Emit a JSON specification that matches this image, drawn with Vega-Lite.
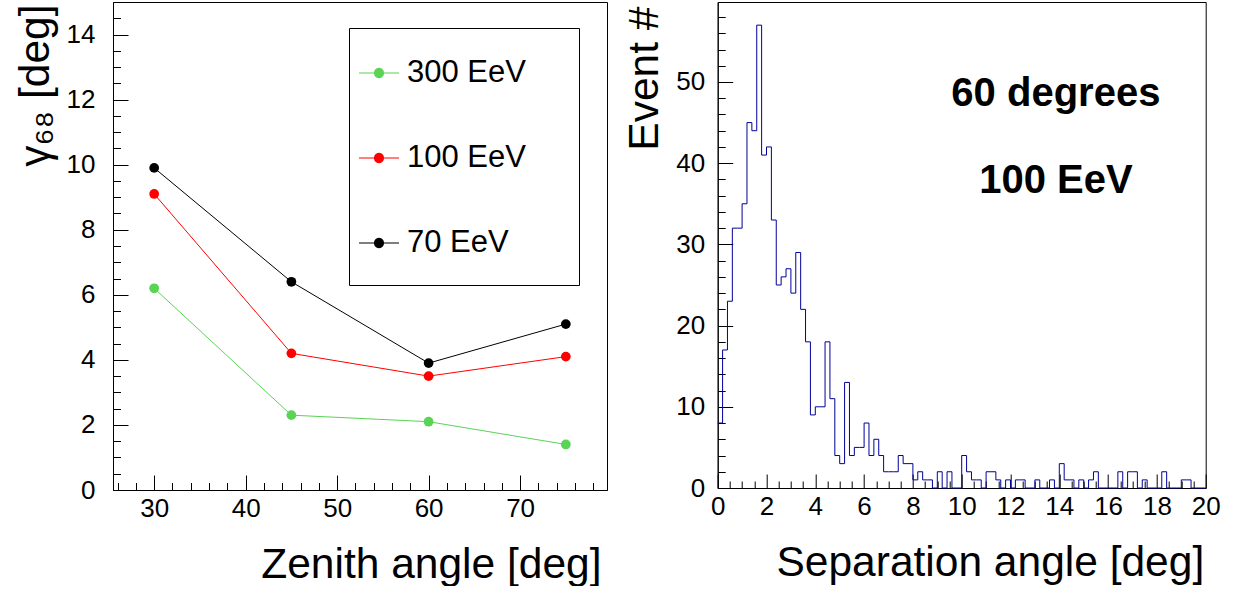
{
  "$schema": "https://vega.github.io/schema/vega-lite/v6.json",
  "padding": {"left": 13, "top": 1, "right": 5, "bottom": 0},
  "background": "white",
  "bounds": "flush",
  "spacing": 110.7,
  "config": {
    "font": "Liberation Sans",
    "view": {"stroke": "black", "strokeWidth": 1},
    "axis": {
      "labelFont": "Liberation Sans", "titleFont": "Liberation Sans",
      "labelColor": "black", "titleColor": "black", "tickColor": "black", "domainColor": "black",
      "grid": false, "labelFontSize": 26, "titleFontSize": 42.5, "titleFontWeight": "normal",
      "tickWidth": 1, "domainWidth": 1, "labelFlush": false, "labelOverlap": false
    },
    "legend": {"labelFont": "Liberation Sans"}
  },
  "hconcat": [
    {
      "width": 494,
      "height": 488,
      "data": {"values": [
        {"zenith": 30, "energy": "300 EeV", "gamma68": 6.2},
        {"zenith": 45, "energy": "300 EeV", "gamma68": 2.3},
        {"zenith": 60, "energy": "300 EeV", "gamma68": 2.1},
        {"zenith": 75, "energy": "300 EeV", "gamma68": 1.4},
        {"zenith": 30, "energy": "100 EeV", "gamma68": 9.1},
        {"zenith": 45, "energy": "100 EeV", "gamma68": 4.2},
        {"zenith": 60, "energy": "100 EeV", "gamma68": 3.5},
        {"zenith": 75, "energy": "100 EeV", "gamma68": 4.1},
        {"zenith": 30, "energy": "70 EeV", "gamma68": 9.9},
        {"zenith": 45, "energy": "70 EeV", "gamma68": 6.4},
        {"zenith": 60, "energy": "70 EeV", "gamma68": 3.9},
        {"zenith": 75, "energy": "70 EeV", "gamma68": 5.1}
      ]},
      "resolve": {"axis": {"x": "independent", "y": "independent"}},
      "layer": [
        {
          "mark": {"type": "line", "strokeWidth": 1},
          "encoding": {
            "x": {"field": "zenith", "type": "quantitative",
              "scale": {"domain": [25.5, 79.5], "nice": false, "zero": false},
              "axis": {"orient": "bottom", "values": [30, 40, 50, 60, 70], "format": "d", "tickSize": -15, "labelPadding": 20,
                "title": "Zenith angle [deg]", "titleAnchor": "end", "titleAlign": "right", "titleBaseline": "alphabetic",
                "titleX": 488, "titleY": 87}},
            "y": {"field": "gamma68", "type": "quantitative",
              "scale": {"domain": [0, 15], "nice": false},
              "axis": {"orient": "left", "values": [0, 2, 4, 6, 8, 10, 12, 14], "format": "d", "tickSize": -15, "labelPadding": 33,
                "title": "γ₆₈ [deg]", "titleAnchor": "end", "titleAlign": "right", "titleBaseline": "alphabetic", "titleAngle": -90,
                "titleX": -65, "titleY": 2}},
            "stroke": {"field": "energy", "type": "nominal",
              "scale": {"domain": ["70 EeV", "100 EeV", "300 EeV"], "range": ["#000000", "#ff0000", "#59d454"]},
              "legend": null}
          }
        },
        {
          "mark": {"type": "point", "filled": true, "size": 95, "opacity": 1},
          "encoding": {
            "x": {"field": "zenith", "type": "quantitative",
              "scale": {"domain": [25.5, 79.5], "nice": false, "zero": false},
              "axis": {"orient": "bottom", "values": [26, 28, 32, 34, 36, 38, 42, 44, 46, 48, 52, 54, 56, 58, 62, 64, 66, 68, 72, 74, 76, 78],
                "labels": false, "domain": false, "tickSize": -7.5, "title": null}},
            "y": {"field": "gamma68", "type": "quantitative",
              "scale": {"domain": [0, 15], "nice": false},
              "axis": {"orient": "left", "values": [0.5, 1, 1.5, 2.5, 3, 3.5, 4.5, 5, 5.5, 6.5, 7, 7.5, 8.5, 9, 9.5, 10.5, 11, 11.5, 12.5, 13, 13.5, 14.5, 15],
                "labels": false, "domain": false, "tickSize": -7.5, "title": null}},
            "color": {"field": "energy", "type": "nominal",
              "scale": {"domain": ["300 EeV", "100 EeV", "70 EeV"], "range": ["#59d454", "#ff0000", "#000000"]},
              "legend": {
                "orient": "none", "legendX": 236, "legendY": 26, "direction": "vertical",
                "title": null, "padding": 10, "strokeColor": "black", "fillColor": "white",
                "symbolType": "M-1,-1L5,0.886M-1,-0.0143L0.1429,-0.0143L0.1429,0.0143L-1,0.0143ZM-0.2857,0A0.1429,0.1429,0,1,1,-0.5714,0A0.1429,0.1429,0,1,1,-0.2857,0Z",
                "symbolSize": 4900, "symbolStrokeWidth": 0, "symbolOpacity": 1,
                "labelFontSize": 31, "labelColor": "black", "labelOffset": -22, "rowPadding": 18, "labelLimit": 400
              }}
          }
        }
      ]
    },
    {
      "width": 488,
      "height": 486,
      "data": {"values": [
        {"x": 0, "n": 8}, {"x": 0.2, "n": 17}, {"x": 0.4, "n": 23}, {"x": 0.6, "n": 32}, {"x": 0.8, "n": 32},
        {"x": 1, "n": 35}, {"x": 1.2, "n": 45}, {"x": 1.4, "n": 44}, {"x": 1.6, "n": 57}, {"x": 1.8, "n": 41},
        {"x": 2, "n": 42}, {"x": 2.2, "n": 33}, {"x": 2.4, "n": 25}, {"x": 2.6, "n": 26}, {"x": 2.8, "n": 27},
        {"x": 3, "n": 24}, {"x": 3.2, "n": 29}, {"x": 3.4, "n": 22}, {"x": 3.6, "n": 18}, {"x": 3.8, "n": 9},
        {"x": 4, "n": 10}, {"x": 4.2, "n": 10}, {"x": 4.4, "n": 18}, {"x": 4.6, "n": 11}, {"x": 4.8, "n": 4},
        {"x": 5, "n": 3}, {"x": 5.2, "n": 13}, {"x": 5.4, "n": 4}, {"x": 5.6, "n": 5}, {"x": 5.8, "n": 5},
        {"x": 6, "n": 8}, {"x": 6.2, "n": 4}, {"x": 6.4, "n": 6}, {"x": 6.6, "n": 4}, {"x": 6.8, "n": 2},
        {"x": 7, "n": 2}, {"x": 7.2, "n": 2}, {"x": 7.4, "n": 4}, {"x": 7.6, "n": 3}, {"x": 7.8, "n": 3},
        {"x": 8, "n": 1}, {"x": 8.2, "n": 2}, {"x": 8.4, "n": 1}, {"x": 8.6, "n": 1}, {"x": 8.8, "n": 0},
        {"x": 9, "n": 2}, {"x": 9.2, "n": 0}, {"x": 9.4, "n": 2}, {"x": 9.6, "n": 0}, {"x": 9.8, "n": 0},
        {"x": 10, "n": 4}, {"x": 10.2, "n": 2}, {"x": 10.4, "n": 1}, {"x": 10.6, "n": 1}, {"x": 10.8, "n": 0},
        {"x": 11, "n": 2}, {"x": 11.2, "n": 2}, {"x": 11.4, "n": 1}, {"x": 11.6, "n": 0}, {"x": 11.8, "n": 1},
        {"x": 12, "n": 0}, {"x": 12.2, "n": 1}, {"x": 12.4, "n": 1}, {"x": 12.6, "n": 0}, {"x": 12.8, "n": 0},
        {"x": 13, "n": 1}, {"x": 13.2, "n": 0}, {"x": 13.4, "n": 0}, {"x": 13.6, "n": 1}, {"x": 13.8, "n": 0},
        {"x": 14, "n": 3}, {"x": 14.2, "n": 1}, {"x": 14.4, "n": 1}, {"x": 14.6, "n": 0}, {"x": 14.8, "n": 1},
        {"x": 15, "n": 0}, {"x": 15.2, "n": 1}, {"x": 15.4, "n": 2}, {"x": 15.6, "n": 0}, {"x": 15.8, "n": 0},
        {"x": 16, "n": 0}, {"x": 16.2, "n": 0}, {"x": 16.4, "n": 2}, {"x": 16.6, "n": 0}, {"x": 16.8, "n": 2},
        {"x": 17, "n": 2}, {"x": 17.2, "n": 0}, {"x": 17.4, "n": 1}, {"x": 17.6, "n": 0}, {"x": 17.8, "n": 0},
        {"x": 18, "n": 0}, {"x": 18.2, "n": 2}, {"x": 18.4, "n": 0}, {"x": 18.6, "n": 0}, {"x": 18.8, "n": 0},
        {"x": 19, "n": 1}, {"x": 19.2, "n": 1}, {"x": 19.4, "n": 0}, {"x": 19.6, "n": 0}, {"x": 19.8, "n": 0},
        {"x": 20, "n": 0}
      ]},
      "resolve": {"axis": {"x": "independent", "y": "independent"}},
      "layer": [
        {
          "mark": {"type": "line", "interpolate": "step-after", "strokeWidth": 1, "color": "#000099"},
          "encoding": {
            "x": {"field": "x", "type": "quantitative",
              "scale": {"domain": [0, 20], "nice": false, "zero": false},
              "axis": {"orient": "bottom", "values": [0, 2, 4, 6, 8, 10, 12, 14, 16, 18, 20], "format": "d", "tickSize": -14, "labelPadding": 19,
                "title": "Separation angle [deg]", "titleAnchor": "end", "titleAlign": "right", "titleBaseline": "alphabetic",
                "titleX": 486, "titleY": 87}},
            "y": {"field": "n", "type": "quantitative",
              "scale": {"domain": [0, 59.85], "nice": false},
              "axis": {"orient": "left", "values": [0, 10, 20, 30, 40, 50], "format": "d", "tickSize": -15, "labelPadding": 28,
                "title": "Event #", "titleAnchor": "end", "titleAlign": "right", "titleBaseline": "alphabetic", "titleAngle": -90,
                "titleX": -60, "titleY": 4}}
          }
        },
        {
          "data": {"values": [{}]},
          "mark": {"type": "text", "text": "60 degrees", "font": "Liberation Sans", "fontWeight": "bold", "fontSize": 40, "align": "center", "baseline": "alphabetic", "color": "black"},
          "encoding": {
            "x": {"datum": 13.86, "type": "quantitative",
              "scale": {"domain": [0, 20], "nice": false, "zero": false},
              "axis": {"orient": "bottom", "values": [0.5, 1, 1.5, 2.5, 3, 3.5, 4.5, 5, 5.5, 6.5, 7, 7.5, 8.5, 9, 9.5, 10.5, 11, 11.5, 12.5, 13, 13.5, 14.5, 15, 15.5, 16.5, 17, 17.5, 18.5, 19, 19.5],
                "labels": false, "domain": false, "tickSize": -7, "title": null}},
            "y": {"datum": 47.1, "type": "quantitative",
              "scale": {"domain": [0, 59.85], "nice": false},
              "axis": {"orient": "left", "values": [2, 4, 6, 8, 12, 14, 16, 18, 22, 24, 26, 28, 32, 34, 36, 38, 42, 44, 46, 48, 52, 54, 56, 58],
                "labels": false, "domain": false, "tickSize": -7.5, "title": null}}
          }
        },
        {
          "data": {"values": [{}]},
          "mark": {"type": "text", "text": "100 EeV", "font": "Liberation Sans", "fontWeight": "bold", "fontSize": 40, "align": "center", "baseline": "alphabetic", "color": "black"},
          "encoding": {
            "x": {"datum": 13.86, "type": "quantitative", "scale": {"domain": [0, 20], "nice": false, "zero": false}, "axis": null},
            "y": {"datum": 36.27, "type": "quantitative", "scale": {"domain": [0, 59.85], "nice": false}, "axis": null}
          }
        }
      ]
    }
  ]
}
